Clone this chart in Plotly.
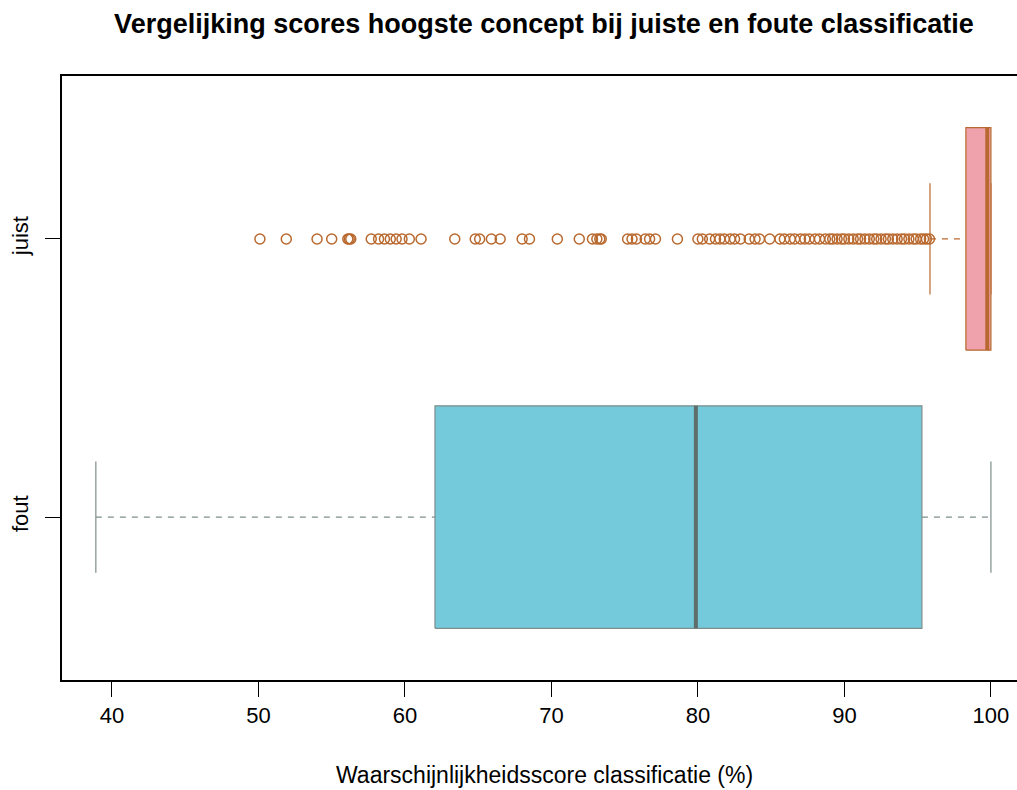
import plotly.graph_objects as go

# categorieën (onder naar boven)
categories = ["fout", "juist"]

# boxplot-statistieken per categorie
q1 = [62.05, 98.29]
median = [79.86, 99.75]
q3 = [95.29, 100.0]
lower_whisker = [38.9, 95.84]
upper_whisker = [100.0, 100.0]

# uitschieters (alleen bij "juist")
outliers_juist = [
    50.1, 51.9, 54.0, 55.0, 56.1, 56.2, 56.3,
    57.7, 58.2, 58.6, 59.0, 59.4, 59.8, 60.3, 61.1,
    63.4, 64.8, 65.1, 65.9, 66.5, 68.0, 68.5, 70.4,
    71.9, 72.8, 73.1, 73.3, 73.4, 75.2, 75.5, 75.8,
    76.4, 76.7, 77.1, 78.6, 80.0, 80.3, 80.8,
    81.2, 81.5, 81.8, 82.2, 82.5, 82.9, 83.5, 83.9, 84.2, 84.9,
    85.6, 85.9, 86.3, 86.6, 87.0, 87.3, 87.6, 88.0, 88.3,
    88.7, 89.0, 89.2, 89.5, 89.8, 90.0, 90.3, 90.6, 90.9,
    91.1, 91.4, 91.7, 92.0, 92.2, 92.5, 92.8, 93.0, 93.3,
    93.6, 93.9, 94.1, 94.4, 94.7, 94.9, 95.2, 95.4, 95.6, 95.8,
]

fill_colors = ["#74CADB", "#EFA1AC"]
border_colors = ["#7D8E8A", "#B9692F"]
median_colors = ["#5F6E6B", "#B9692F"]
half = 0.4

fig = go.Figure()

for i, cat in enumerate(categories):
    pos = i + 1
    bc = border_colors[i]
    # whiskers (gestreept)
    fig.add_trace(go.Scatter(
        x=[lower_whisker[i], q1[i], None, q3[i], upper_whisker[i]],
        y=[pos, pos, None, pos, pos],
        mode="lines", line=dict(color=bc, width=1.2, dash="6px,6px"),
        hoverinfo="skip", showlegend=False))
    # caps
    fig.add_trace(go.Scatter(
        x=[lower_whisker[i], lower_whisker[i], None, upper_whisker[i], upper_whisker[i]],
        y=[pos - half / 2, pos + half / 2, None, pos - half / 2, pos + half / 2],
        mode="lines", line=dict(color=bc, width=1.2),
        hoverinfo="skip", showlegend=False))
    # box
    fig.add_trace(go.Scatter(
        x=[q1[i], q3[i], q3[i], q1[i], q1[i]],
        y=[pos - half, pos - half, pos + half, pos + half, pos - half],
        mode="lines", fill="toself", fillcolor=fill_colors[i],
        line=dict(color=bc, width=1.2),
        name=cat, showlegend=False))
    # mediaan
    fig.add_trace(go.Scatter(
        x=[median[i], median[i]], y=[pos - half, pos + half],
        mode="lines", line=dict(color=median_colors[i], width=4),
        hoverinfo="skip", showlegend=False))

fig.add_trace(go.Scatter(
    x=outliers_juist, y=[2] * len(outliers_juist),
    mode="markers",
    marker=dict(symbol="circle-open", size=10, color=border_colors[1],
                line=dict(width=1.5, color=border_colors[1])),
    showlegend=False))

fig.update_layout(
    width=1017, height=790,
    plot_bgcolor="white", paper_bgcolor="white",
    margin=dict(l=62, r=0, t=76, b=110),
    font=dict(family="Liberation Sans, Arial, sans-serif", size=22, color="black"),
    title=dict(text="<b>Vergelijking scores hoogste concept bij juiste en foute classificatie</b>",
               x=544 / 1017, xanchor="center", y=1 - 24 / 790, yanchor="middle",
               font=dict(size=27)),
)

fig.update_xaxes(
    range=[36.59, 101.78], tickvals=[40, 50, 60, 70, 80, 90, 100],
    showgrid=False, zeroline=False, automargin=False,
    showline=True, mirror=True, linecolor="black", linewidth=1.5,
    ticks="outside", ticklen=15, tickcolor="black", tickwidth=1.2,
    ticklabelstandoff=0,
)
fig.update_yaxes(
    range=[0.414, 2.586], tickvals=[1, 2], ticktext=categories,
    tickangle=-90, showgrid=False, zeroline=False, automargin=False,
    showline=True, mirror=False, linecolor="black", linewidth=1.5,
    ticks="outside", ticklen=15, tickcolor="black", tickwidth=1.2,
    ticklabelstandoff=8,
)

fig.add_annotation(
    text="Waarschijnlijkheidsscore classificatie (%)",
    xref="paper", yref="paper", x=(544 - 62) / 955, y=0,
    yshift=-95, showarrow=False, yanchor="middle", font=dict(size=23))

fig.write_html("out.html", config={"displayModeBar": False},
               post_script="document.body.style.margin='0';")
